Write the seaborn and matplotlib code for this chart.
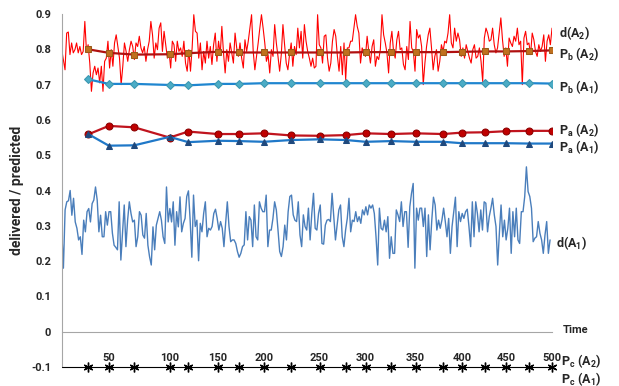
import numpy as np
import pandas as pd
import matplotlib
matplotlib.use("Agg")
import matplotlib.pyplot as plt
import seaborn as sns

# --- data ---
d_a1 = [
    0.288, 0.18, 0.345, 0.368, 0.371, 0.40, 0.33, 0.378, 0.311, 0.293, 0.26, 0.269, 0.219, 0.316, 0.283,
    0.34, 0.349, 0.311, 0.363, 0.373, 0.41, 0.373, 0.283, 0.33, 0.269, 0.269, 0.34, 0.302, 0.34, 0.34,
    0.279, 0.245, 0.239, 0.232, 0.368, 0.203, 0.279, 0.359, 0.241, 0.316, 0.368, 0.335, 0.311, 0.316,
    0.241, 0.269, 0.34, 0.33, 0.274, 0.265, 0.335, 0.245, 0.212, 0.189, 0.297, 0.232, 0.302, 0.321, 0.34,
    0.316, 0.269, 0.25, 0.41, 0.311, 0.349, 0.311, 0.368, 0.245, 0.34, 0.297, 0.382,
    0.283, 0.307, 0.321, 0.383, 0.399, 0.316, 0.211, 0.387, 0.298, 0.316, 0.201, 0.307, 0.283, 0.335,
    0.368, 0.269, 0.293, 0.288, 0.298, 0.335, 0.347, 0.321, 0.288, 0.312, 0.293, 0.241, 0.307, 0.368,
    0.298, 0.255, 0.26, 0.26, 0.25, 0.227, 0.211, 0.222, 0.241, 0.246, 0.34, 0.26, 0.326, 0.316, 0.241,
    0.359, 0.269, 0.26, 0.368, 0.35, 0.34, 0.34, 0.387, 0.241, 0.288, 0.288, 0.321, 0.368, 0.345, 0.288,
    0.227, 0.213, 0.241, 0.302, 0.26, 0.34, 0.383, 0.387, 0.331, 0.316, 0.312, 0.368, 0.274, 0.241, 0.331,
    0.298, 0.288, 0.35, 0.26, 0.335, 0.392, 0.293, 0.288, 0.335, 0.359, 0.25, 0.248, 0.302, 0.316, 0.318,
    0.312, 0.392, 0.326, 0.26, 0.302, 0.345, 0.359, 0.269, 0.241, 0.288, 0.321, 0.378, 0.283, 0.316,
    0.312, 0.34, 0.312, 0.326, 0.307, 0.345, 0.331, 0.354, 0.331, 0.359, 0.35, 0.359, 0.335, 0.269, 0.189,
    0.35, 0.293, 0.288, 0.316, 0.283, 0.326, 0.208, 0.269, 0.222, 0.222, 0.345, 0.331, 0.312, 0.368,
    0.298, 0.34, 0.34, 0.239, 0.354, 0.392, 0.42, 0.18, 0.35, 0.316, 0.35, 0.35, 0.298, 0.35, 0.213,
    0.331, 0.232, 0.316, 0.381, 0.359, 0.288, 0.316, 0.293, 0.316, 0.35, 0.312, 0.269, 0.321, 0.222,
    0.298, 0.34, 0.381, 0.241, 0.34, 0.312, 0.335, 0.321, 0.34, 0.347, 0.298, 0.241, 0.368, 0.269, 0.368,
    0.335, 0.283, 0.345, 0.288, 0.368, 0.364, 0.283, 0.326, 0.35, 0.378, 0.331, 0.298, 0.189, 0.279,
    0.359, 0.269, 0.316, 0.26, 0.293, 0.35, 0.222, 0.34, 0.269, 0.35, 0.26, 0.25, 0.34, 0.34, 0.383,
    0.467, 0.397, 0.383, 0.35, 0.255, 0.265, 0.269, 0.312, 0.279, 0.26, 0.222, 0.274, 0.312, 0.222, 0.26,
]

d_a2 = [
    0.799, 0.771, 0.742, 0.846, 0.849, 0.785, 0.818, 0.79, 0.799, 0.818, 0.79, 0.808, 0.785, 0.794, 0.879,
    0.794, 0.813, 0.761, 0.681, 0.733, 0.752, 0.728, 0.747, 0.705, 0.752, 0.681, 0.766, 0.775, 0.823,
    0.747, 0.799, 0.752, 0.818, 0.841, 0.808, 0.775, 0.70, 0.752, 0.818, 0.794, 0.766, 0.799, 0.823,
    0.808, 0.771, 0.818, 0.808, 0.837, 0.804, 0.79, 0.808, 0.766, 0.799, 0.823, 0.879, 0.841, 0.775,
    0.818, 0.799, 0.86, 0.875, 0.794, 0.851, 0.813, 0.775, 0.794, 0.747, 0.823, 0.813, 0.766, 0.823,
    0.794, 0.804, 0.78, 0.823, 0.761, 0.738,
    0.799, 0.738, 0.804, 0.898, 0.851, 0.846, 0.775, 0.818, 0.742, 0.794, 0.761, 0.823, 0.775, 0.808,
    0.757, 0.813, 0.846, 0.766, 0.823, 0.785, 0.865, 0.79, 0.733, 0.799, 0.766, 0.818, 0.79, 0.761,
    0.846, 0.804, 0.78, 0.818, 0.775, 0.747, 0.827, 0.794, 0.823, 0.86, 0.898, 0.794, 0.742, 0.78, 0.818,
    0.86, 0.898, 0.86, 0.818, 0.766, 0.785, 0.733, 0.799, 0.78, 0.87, 0.818, 0.78, 0.738, 0.785, 0.87,
    0.813, 0.761, 0.742, 0.785, 0.818, 0.752, 0.808, 0.785, 0.86, 0.804, 0.851, 0.775, 0.87, 0.823,
    0.794, 0.775,
    0.752, 0.775, 0.747, 0.752, 0.898, 0.813, 0.804, 0.761, 0.837, 0.841, 0.775, 0.738, 0.761, 0.823,
    0.856, 0.837, 0.78, 0.738, 0.808, 0.728, 0.818, 0.714, 0.804, 0.804, 0.823, 0.823, 0.86, 0.898,
    0.865, 0.846, 0.761, 0.804, 0.79, 0.78, 0.837, 0.794, 0.761, 0.808, 0.827, 0.752, 0.78, 0.771, 0.799,
    0.898, 0.841, 0.818, 0.79, 0.733, 0.818, 0.851, 0.794, 0.775, 0.827, 0.851, 0.799, 0.804, 0.757,
    0.742, 0.808, 0.771, 0.879, 0.804, 0.794, 0.738, 0.856, 0.832, 0.841, 0.808, 0.70, 0.761, 0.808,
    0.841, 0.86,
    0.804, 0.742, 0.78, 0.799, 0.738, 0.766, 0.813, 0.794, 0.823, 0.818, 0.846, 0.898, 0.818, 0.804,
    0.86, 0.823, 0.846, 0.827, 0.78, 0.804, 0.775, 0.813, 0.794, 0.775, 0.761, 0.799, 0.813, 0.775, 0.78,
    0.804, 0.766, 0.709, 0.832, 0.86, 0.846, 0.823, 0.827, 0.86, 0.813, 0.79, 0.804, 0.846, 0.889, 0.827,
    0.78, 0.804, 0.752, 0.832, 0.818, 0.808, 0.837, 0.823, 0.86, 0.813, 0.823, 0.70, 0.832, 0.851, 0.813,
    0.818, 0.785, 0.846, 0.827, 0.794, 0.78, 0.813, 0.794, 0.808, 0.841, 0.766, 0.823, 0.841, 0.813, 0.86,
]

p_times = [27, 48, 74, 110, 129, 159, 181, 206, 234, 263, 290, 310, 336, 361, 389, 408, 432, 453, 477, 500]
pb_a2 = [0.80, 0.79, 0.785, 0.786, 0.789, 0.793, 0.791, 0.791, 0.791, 0.791, 0.791, 0.792, 0.792, 0.792,
         0.792, 0.793, 0.794, 0.794, 0.795, 0.797]
pb_a1 = [0.715, 0.702, 0.702, 0.699, 0.698, 0.702, 0.702, 0.704, 0.704, 0.704, 0.704, 0.704, 0.704, 0.704,
         0.704, 0.704, 0.704, 0.704, 0.704, 0.703]
pa_a2 = [0.559, 0.583, 0.579, 0.55, 0.567, 0.56, 0.56, 0.562, 0.556, 0.555, 0.557, 0.562, 0.56, 0.562,
         0.56, 0.564, 0.565, 0.568, 0.569, 0.569]
pa_a1 = [0.56, 0.527, 0.528, 0.552, 0.537, 0.541, 0.54, 0.538, 0.543, 0.545, 0.543, 0.538, 0.54, 0.538,
         0.538, 0.534, 0.534, 0.534, 0.533, 0.533]
pc_level = -0.1

label_times = [48, 110, 159, 206, 263, 310, 361, 408, 453, 500]
label_texts = ["50", "100", "150", "200", "250", "300", "350", "400", "450", "500"]

# --- style ---
sns.set_style("white")
plt.rcParams["font.family"] = ["Roboto", "DejaVu Sans"]
plt.rcParams["font.weight"] = "bold"
plt.rcParams["mathtext.fontset"] = "custom"
plt.rcParams["mathtext.rm"] = "Roboto:bold"
plt.rcParams["mathtext.bf"] = "Roboto:bold"

fig = plt.figure(figsize=(6.19, 3.86), dpi=100)
ax = fig.add_axes([0.0997, 0.0492, 0.7921, 0.9145])

df_a1 = pd.DataFrame({"t": np.linspace(0, 498, len(d_a1)), "v": d_a1})
df_a2 = pd.DataFrame({"t": np.linspace(0, 500, len(d_a2)), "v": d_a2})
df_p = pd.DataFrame({"t": p_times, "pb_a2": pb_a2, "pb_a1": pb_a1, "pa_a2": pa_a2, "pa_a1": pa_a1})

sns.lineplot(data=df_a2, x="t", y="v", ax=ax, color="#FF0000", lw=0.8, estimator=None, sort=False)
sns.lineplot(data=df_a1, x="t", y="v", ax=ax, color="#4A7EBB", lw=1.0, estimator=None, sort=False)

sns.lineplot(data=df_p, x="t", y="pb_a2", ax=ax, color="#B01010", lw=1.6, marker="s", ms=5,
             markerfacecolor="#C0701E", markeredgecolor="#9A5A1A", estimator=None)
sns.lineplot(data=df_p, x="t", y="pb_a1", ax=ax, color="#1F86D0", lw=1.6, marker="D", ms=4,
             markerfacecolor="#4BACC6", markeredgecolor="#3A96B0", estimator=None)
sns.lineplot(data=df_p, x="t", y="pa_a2", ax=ax, color="#C0141E", lw=1.6, marker="o", ms=5,
             markerfacecolor="#C00000", markeredgecolor="#8B0000", estimator=None)
sns.lineplot(data=df_p, x="t", y="pa_a1", ax=ax, color="#1F78C8", lw=1.6, marker="^", ms=5,
             markerfacecolor="#1F497D", markeredgecolor="#1F497D", estimator=None)

# Pc series: constant line with star markers at the change times
pc_t = [0] + p_times
ax.plot(pc_t, [pc_level] * len(pc_t), color="black", lw=0.8, marker=(6, 2, 0), ms=7,
        mew=1.0, markevery=list(range(1, len(pc_t))), clip_on=False, zorder=5)

# axes
ax.set_xlim(0, 500)
ax.set_ylim(-0.1, 0.9)
yt = np.round(np.arange(-0.1, 0.91, 0.1), 1)
ax.set_yticks(yt)
ax.set_yticklabels(["0" if v == 0 else f"{v:.1f}" for v in yt])
ax.tick_params(axis="y", direction="out", length=3.5, width=0.8, color="#A6A6A6", labelsize=8, pad=4)
ax.set_ylabel("delivered / predicted", fontsize=10, fontweight="bold", labelpad=5)
ax.set_xlabel("")

for s in ["top", "right"]:
    ax.spines[s].set_visible(False)
ax.spines["left"].set_color("#A6A6A6")
ax.spines["left"].set_linewidth(0.8)
ax.spines["bottom"].set_position(("data", 0))
ax.spines["bottom"].set_color("#A6A6A6")
ax.spines["bottom"].set_linewidth(0.8)

ax.set_xticks(label_times)
ax.set_xticklabels(label_texts)
ax.set_xticks(np.linspace(0, 500, 24), minor=True)
ax.tick_params(axis="x", which="major", length=0, labelsize=8, pad=15)
ax.tick_params(axis="x", which="minor", direction="out", length=3, width=0.8, color="#A6A6A6")

# series labels on the right
lab = dict(fontsize=9, fontweight="bold", va="center", ha="left", clip_on=False)
ax.text(507, 0.846, r"d(A$_\mathbf{2}$)", **lab)
ax.text(507, 0.786, r"P$_\mathbf{b}$ (A$_\mathbf{2}$)", **lab)
ax.text(507, 0.693, r"P$_\mathbf{b}$ (A$_\mathbf{1}$)", **lab)
ax.text(507, 0.570, r"P$_\mathbf{a}$ (A$_\mathbf{2}$)", **lab)
ax.text(507, 0.522, r"P$_\mathbf{a}$ (A$_\mathbf{1}$)", **lab)
ax.text(504, 0.250, r"d(A$_\mathbf{1}$)", **lab)
ax.text(511, 0.004, "Time", fontsize=8, fontweight="bold", va="center", ha="left", clip_on=False)
ax.text(509, -0.083, r"P$_\mathbf{c}$ (A$_\mathbf{2}$)", **lab)
ax.text(509, -0.133, r"P$_\mathbf{c}$ (A$_\mathbf{1}$)", **lab)

fig.savefig("out.png", dpi=100)
